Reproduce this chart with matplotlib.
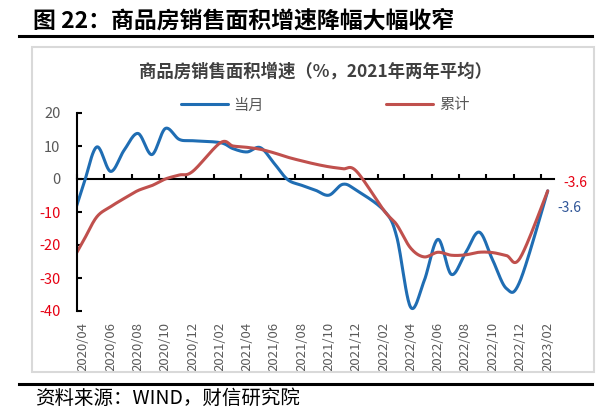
import numpy as np
import pandas as pd
import matplotlib
matplotlib.use('Agg')
import matplotlib.pyplot as plt
import matplotlib.dates as mdates
from matplotlib.patches import Rectangle
from matplotlib.lines import Line2D

plt.rcParams['font.family'] = ['Noto Sans CJK SC', 'DejaVu Sans']
plt.rcParams['axes.unicode_minus'] = False

# 月份（1月与2月合并公布，没有1月）
months = ['2020-03', '2020-04', '2020-05', '2020-06', '2020-07', '2020-08', '2020-09',
          '2020-10', '2020-11', '2020-12',
          '2021-02', '2021-03', '2021-04', '2021-05', '2021-06', '2021-07', '2021-08',
          '2021-09', '2021-10', '2021-11', '2021-12',
          '2022-02', '2022-03', '2022-04', '2022-05', '2022-06', '2022-07', '2022-08',
          '2022-09', '2022-10', '2022-11', '2022-12',
          '2023-02']
# 当月
dangyue = [-15.0, -2.0, 9.7, 2.3, 8.7, 13.8, 7.4, 15.3, 12.0, 11.6,
           11.0, 9.2, 8.2, 9.5, 4.7, -0.2, -1.9, -3.4, -4.9, -1.6, -3.4,
           -9.6, -17.4, -38.8, -31.0, -18.3, -28.9, -22.6, -16.1, -24.5, -33.2, -31.0,
           -3.6]
# 累计
leiji = [-26.3, -18.8, -11.5, -8.4, -5.9, -3.5, -2.0, 0.0, 1.2, 2.3,
         11.0, 10.0, 9.6, 9.0, 7.9, 6.6, 5.5, 4.5, 3.7, 3.1, 2.4,
         -9.6, -13.8, -20.9, -23.6, -22.2, -23.1, -23.0, -22.2, -22.3, -23.2, -24.0,
         -3.6]

tick_months = pd.date_range('2020-04-01', '2023-02-01', freq='2MS')
x_start, x_end = pd.Timestamp('2020-04-01'), pd.Timestamp('2023-03-01')
y_min, y_max = -40, 20

BLUE = '#1f6db3'
RED = '#c0504d'
GREY = '#595959'
TXT_RED = '#e60012'
TXT_BLUE = '#2f5597'


def smooth(x, y, n=24):
    # Excel风格的平滑曲线（Catmull-Rom 转贝塞尔）
    x = np.asarray(x, float)
    y = np.asarray(y, float)
    px = np.concatenate([[x[0]], x, [x[-1]]])
    py = np.concatenate([[y[0]], y, [y[-1]]])
    t = np.linspace(0, 1, n)[:, None]
    xs, ys = [], []
    for i in range(1, len(px) - 2):
        p0 = np.array([px[i], py[i]])
        p3 = np.array([px[i + 1], py[i + 1]])
        p1 = p0 + (p3 - np.array([px[i - 1], py[i - 1]])) / 6
        p2 = p3 - (np.array([px[i + 2], py[i + 2]]) - p0) / 6
        seg = (1 - t) ** 3 * p0 + 3 * (1 - t) ** 2 * t * p1 + 3 * (1 - t) * t ** 2 * p2 + t ** 3 * p3
        xs.append(seg[:, 0])
        ys.append(seg[:, 1])
    return np.concatenate(xs), np.concatenate(ys)


dates = pd.to_datetime(months) + pd.Timedelta(days=14)
xnum = mdates.date2num(dates.to_pydatetime())

W, H = 610, 412
fig = plt.figure(figsize=(W / 100, H / 100), dpi=100)
ax = fig.add_axes([77 / W, 1 - 311 / H, (554 - 77) / W, (311 - 113) / H])

bx, by = smooth(xnum, dangyue)
l1, = ax.plot(bx, by, color=BLUE, lw=2.2, label='当月', solid_capstyle='round')
rx, ry = smooth(xnum, leiji)
l2, = ax.plot(rx, ry, color=RED, lw=2.2, label='累计', solid_capstyle='round')

ax.set_xlim(mdates.date2num(x_start), mdates.date2num(x_end))
ax.set_ylim(y_min, y_max)

for s in ['top', 'right', 'bottom']:
    ax.spines[s].set_visible(False)
ax.spines['left'].set_linewidth(1.5)

yt = list(range(y_min, y_max + 1, 10))
ax.set_yticks(yt)
ax.tick_params(axis='y', direction='in', length=3.6, width=1.5, pad=12, labelsize=10.5)
for lbl, v in zip(ax.get_yticklabels(), yt):
    lbl.set_color(GREY if v >= 0 else TXT_RED)

# 横轴标签放在底部，居中于各月
lab_pos = mdates.date2num((tick_months + pd.Timedelta(days=14)).to_pydatetime())
ax.set_xticks(lab_pos)
ax.set_xticklabels([d.strftime('%Y/%m') for d in tick_months], rotation=90,
                   fontsize=9.5, color=GREY)
ax.tick_params(axis='x', length=0, pad=8)

# 0 轴线及刻度
zero_frac = (0 - y_min) / (y_max - y_min)
sec = ax.secondary_xaxis(zero_frac)
sec.set_xticks(mdates.date2num(tick_months.to_pydatetime()))
sec.tick_params(direction='out', length=3.6, width=1.5, labeltop=False, labelbottom=False)
sec.spines['top'].set_linewidth(1.5)

# 末端数值
ax.annotate(f'{leiji[-1]:.1f}', xy=(xnum[-1], leiji[-1]), xytext=(11, 6),
            textcoords='offset points', color=TXT_RED, fontsize=10,
            ha='left', va='center', annotation_clip=False)
ax.annotate(f'{dangyue[-1]:.1f}', xy=(xnum[-1], dangyue[-1]), xytext=(7, -12),
            textcoords='offset points', color=TXT_BLUE, fontsize=10,
            ha='left', va='center', annotation_clip=False)

ax.legend(handles=[l1, l2], loc='center', bbox_to_anchor=(325 / W, 1 - 105 / H),
          bbox_transform=fig.transFigure, ncol=2, frameon=False, fontsize=11,
          handlelength=3.1, columnspacing=8, handletextpad=0.35, labelcolor=GREY)

fig.text(316 / W, 1 - 72 / H, '商品房销售面积增速（%，2021年两年平均）', ha='center',
         va='center', fontsize=12.5, fontweight='bold', color='#404040')

# 外框、标题和来源
fig.add_artist(Rectangle((32 / W, 1 - 372 / H), (594 - 32) / W, (372 - 47) / H,
                         transform=fig.transFigure, fill=False, ec='#d9d9d9', lw=1.5))
fig.text(33 / W, 1 - 21 / H, '图 22：商品房销售面积增速降幅大幅收窄', fontsize=16.5,
         fontweight='bold', va='center', ha='left')
fig.add_artist(Line2D([19 / W, 592 / W], [1 - 36 / H] * 2, color='black', lw=2.2))
fig.add_artist(Line2D([19 / W, 592 / W], [1 - 384 / H] * 2, color='black', lw=2.2))
fig.text(35 / W, 1 - 398 / H, '资料来源：WIND，财信研究院', fontsize=14,
         style='italic', va='center', ha='left')

fig.savefig('out.png', dpi=100)
